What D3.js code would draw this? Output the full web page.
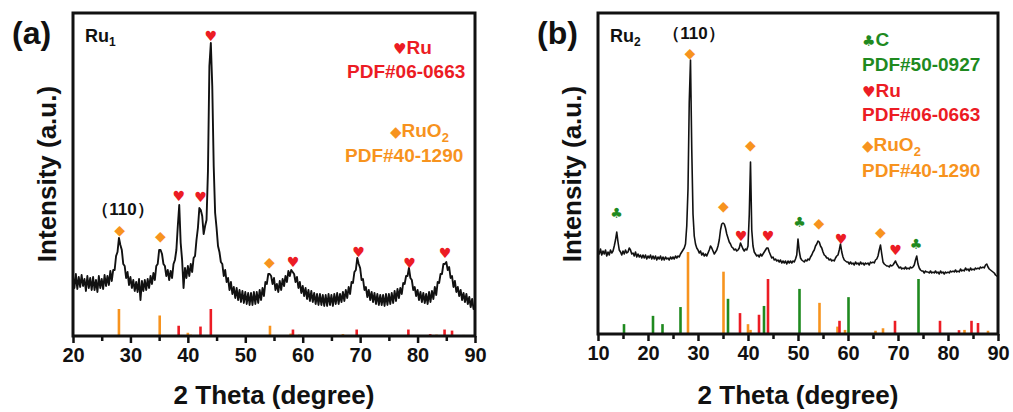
<!DOCTYPE html>
<html>
<head>
<meta charset="utf-8">
<script src="https://cdn.jsdelivr.net/npm/d3@7"></script>
<style>
    body { margin: 0; background: #fff; }
    svg text { font-family: 'Liberation Sans', Arial, sans-serif; font-weight: bold; }
</style>
</head>
<body>
<svg id="chart" width="1013" height="412"></svg>
<script>

// measured scans, intensity in a.u., one value every 0.25 degree
const scanStepA = 0.25
const scanStartA = 20
const intensityA = [
    60, 48, 62, 47,  59, 49, 61, 50,  57, 45, 60, 48,  58, 46, 59, 46,  56, 44, 60, 48,
    57, 47, 61, 50,  60, 51, 65, 55,  66, 66, 80, 84,  98, 91, 86, 72,  70, 58, 64, 51,
    59, 48, 56, 45,  54, 44, 57, 36,  55, 45, 56, 46,  57, 48, 60, 52,  63, 56, 70, 72,
    86, 86, 82, 72,  70, 60, 66, 56,  65, 58, 72, 76,  86, 110, 131, 93,  76, 48, 68, 58,
    70, 60, 72, 64,  78, 80, 96, 108,  128, 126, 120, 102,  110, 116, 165, 270,  293, 250, 170, 123,  108, 90, 84, 74,
    72, 60, 66, 54,  58, 46, 54, 42,  49, 38, 48, 36,  46, 34, 45, 33,  44, 32, 43, 31,
    43, 31, 44, 32,  44, 33, 46, 36,  48, 40, 54, 52,  62, 62, 60, 52,  58, 46, 52, 44,
    55, 46, 57, 50,  60, 54, 65, 60,  66, 64, 62, 54,  59, 48, 54, 43,  50, 40, 48, 37,
    46, 35, 45, 34,  43, 32, 42, 31,  42, 31, 41, 30,  41, 30, 42, 31,  41, 30, 42, 32,
    43, 32, 42, 34,  44, 35, 46, 38,  49, 42, 54, 53,  64, 66, 78, 72,  68, 56, 57, 46,
    49, 39, 46, 36,  44, 34, 43, 32,  42, 31, 41, 31,  41, 30, 42, 31,  42, 32, 43, 33,
    45, 35, 47, 38,  48, 42, 53, 52,  60, 60, 68, 58,  56, 46, 49, 40,  46, 36, 44, 34,
    43, 33, 42, 32,  44, 34, 45, 37,  49, 41, 54, 53,  62, 62, 72, 72,  74, 66, 69, 58,
    60, 49, 55, 44,  49, 40, 46, 36,  43, 34, 42, 32,  39, 29, 37, 27,  30
]

const scanStepB = 0.25
const scanStartB = 10
const intensityB = [
    84, 80, 85, 79,  83, 80, 84, 78,  82, 79, 84, 81,  83, 88, 94, 102,  92, 84, 82, 79,
    83, 80, 84, 81,  82, 86, 84, 80,  81, 78, 82, 77,  80, 77, 79, 76,  79, 76, 79, 75,
    78, 76, 79, 75,  78, 75, 78, 74,  77, 75, 78, 74,  77, 74, 77, 75,  76, 74, 77, 75,
    77, 75, 78, 76,  78, 77, 80, 82,  84, 86, 90, 108,  145, 232, 274, 185,  120, 98, 90, 86,
    84, 81, 83, 79,  81, 78, 80, 78,  81, 84, 88, 86,  83, 80, 82, 84,  88, 94, 104, 110,
    111, 110, 106, 100,  96, 92, 90, 87,  86, 84, 85, 83,  84, 86, 91, 88,  85, 83, 85, 84,
    88, 119, 172, 104,  88, 82, 80, 78,  79, 77, 80, 78,  80, 82, 84, 86,  86, 82, 79, 76,
    77, 74, 75, 73,  74, 72, 74, 71,  73, 71, 73, 70,  73, 71, 73, 71,  73, 72, 75, 79,
    95, 83, 76, 74,  73, 72, 74, 73,  75, 74, 77, 79,  82, 84, 88, 90,  93, 92, 88, 86,
    82, 79, 78, 76,  76, 74, 75, 73,  74, 73, 76, 78,  79, 84, 90, 82,  77, 74, 73, 72,
    72, 70, 72, 70,  71, 69, 72, 70,  71, 69, 72, 70,  71, 69, 71, 70,  71, 69, 72, 71,
    72, 71, 74, 75,  78, 84, 89, 80,  72, 70, 69, 68,  68, 67, 69, 68,  69, 71, 73, 70,
    68, 66, 67, 65,  66, 65, 67, 65,  66, 65, 67, 66,  67, 69, 74, 78,  70, 66, 64, 63,
    63, 61, 63, 62,  62, 61, 63, 61,  62, 61, 63, 61,  62, 60, 63, 61,  62, 60, 62, 61,
    62, 61, 63, 62,  63, 62, 64, 62,  63, 62, 65, 63,  64, 63, 66, 64,  65, 63, 66, 64,
    65, 64, 66, 65,  66, 65, 67, 66,  67, 66, 69, 70,  67, 65, 64, 63,  62, 61, 59, 58,  57
]

// reference patterns: [2theta, relative intensity]
const refRuO2 = [[28.0, 100], [35.1, 76], [40.0, 12], [40.5, 5], [54.3, 38], [57.9, 9], [59.4, 5], [65.5, 4], [67.0, 7], [83.3, 5], [88.0, 4]]
const refRu = [[38.4, 38], [42.2, 35], [44.0, 100], [58.3, 24], [69.4, 24], [78.4, 24], [82.2, 7], [84.7, 24], [86.0, 20]]
const refC = [[15.2, 18], [21.0, 33], [22.9, 18], [26.5, 49], [36.0, 64], [43.2, 51], [50.3, 82], [60.1, 67], [74.1, 100]]

// peak markers: [2theta, level in a.u., phase]
const markersA = [
    [28.1, 106, 'RuO2'], [35.2, 100, 'RuO2'], [38.4, 140, 'Ru'], [42.2, 139, 'Ru'], [44.0, 300, 'Ru'],
    [54.2, 74, 'RuO2'], [58.3, 74, 'Ru'], [69.7, 84, 'Ru'], [78.6, 73, 'Ru'], [84.8, 83, 'Ru']
]
const markersB = [
    [13.7, 121, 'C'], [28.4, 281, 'RuO2'], [35.1, 128, 'RuO2'], [38.6, 98, 'Ru'], [40.5, 189, 'RuO2'],
    [44.0, 98, 'Ru'], [50.3, 112, 'C'], [54.2, 111, 'RuO2'], [58.6, 95, 'Ru'], [66.5, 102, 'RuO2'],
    [69.5, 84, 'Ru'], [73.6, 90, 'C']
]

const ticksA = [20, 30, 40, 50, 60, 70, 80, 90]
const minorA = [25, 35, 45, 55, 65, 75, 85]
const ticksB = [10, 20, 30, 40, 50, 60, 70, 80, 90]
const minorB = [15, 25, 35, 45, 55, 65, 75, 85]

const phases = {
    Ru: { color: '#ec1c24', symbol: '\u2665', ref: refRu, pdf: 'PDF#06-0663' },
    RuO2: { color: '#f7931e', symbol: '\u25C6', ref: refRuO2, pdf: 'PDF#40-1290' },
    C: { color: '#1f8a1f', symbol: '\u2663', ref: refC, pdf: 'PDF#50-0927' }
}

window.onload = function(){
    const svg = d3.select('#chart')

    new panel({
        label: '(a)', sub: '1', left: 73, right: 475, top: 13, bottom: 336,
        domain: [20, 90], ticks: ticksA, minor: minorA,
        start: scanStartA, step: scanStepA, values: intensityA, lineWidth: 1.9,
        refs: [['RuO2', 27], ['Ru', 27]],
        markers: markersA,
        hkl: {x: 123, y: 215},
        legend: [
            {phase: 'Ru', x: 393, y: 54}, {pdf: 'Ru', x: 347, y: 78},
            {phase: 'RuO2', x: 390, y: 137}, {pdf: 'RuO2', x: 345, y: 162}
        ]
    }).render(svg)

    new panel({
        label: '(b)', sub: '2', left: 598, right: 998, top: 13, bottom: 334,
        domain: [10, 90], ticks: ticksB, minor: minorB,
        start: scanStartB, step: scanStepB, values: intensityB, lineWidth: 1.6,
        refs: [['C', 55], ['RuO2', 82], ['Ru', 55]],
        markers: markersB,
        hkl: {x: 694, y: 39},
        legend: [
            {phase: 'C', x: 862, y: 46}, {pdf: 'C', x: 862, y: 71},
            {phase: 'Ru', x: 862, y: 97}, {pdf: 'Ru', x: 862, y: 121},
            {phase: 'RuO2', x: 862, y: 151}, {pdf: 'RuO2', x: 862, y: 177}
        ]
    }).render(svg)
}

class panel {

    constructor(opts){
        this.o = opts
        this.x = d3.scaleLinear().domain(opts.domain).range([opts.left, opts.right])
        this.y = d3.scaleLinear().domain([0, opts.bottom - opts.top]).range([opts.bottom, opts.top])
    }

    render(svg){
        const o = this.o
        const g = svg.append('g')

        this.drawSticks(g)
        this.drawCurve(g)
        this.drawAxis(g)

        g.append('rect')
            .attr('x', o.left).attr('y', o.top)
            .attr('width', o.right - o.left).attr('height', o.bottom - o.top)
            .attr('fill', 'none').attr('stroke', '#111').attr('stroke-width', 3)

        this.drawMarkers(g)
        this.drawTexts(g)
    }

    drawSticks(g){
        const o = this.o
        o.refs.forEach(([name, maxH]) => {
            const ph = phases[name]
            const h = d3.scaleLinear().domain([0, 100]).range([o.bottom, o.bottom - maxH])
            g.append('g').selectAll('line')
                .data(ph.ref.filter(d => d[0] >= o.domain[0] && d[0] <= o.domain[1]))
                .join('line')
                .attr('x1', d => this.x(d[0])).attr('x2', d => this.x(d[0]))
                .attr('y1', o.bottom).attr('y2', d => h(d[1]))
                .attr('stroke', ph.color).attr('stroke-width', 2.6)
        })
    }

    drawCurve(g){
        const o = this.o
        const pts = o.values.map((v, i) => [o.start + i * o.step, v])
        const line = d3.line().x(d => this.x(d[0])).y(d => this.y(d[1]))
        g.append('path')
            .datum(pts)
            .attr('d', line)
            .attr('fill', 'none').attr('stroke', '#111').attr('stroke-width', o.lineWidth)
            .attr('stroke-linejoin', 'round')
    }

    drawAxis(g){
        const o = this.o
        const major = g.append('g')
            .attr('transform', d3Helper.getTranslateString(0, o.bottom))
            .call(d3.axisBottom(this.x).tickValues(o.ticks).tickSize(7).tickPadding(5).tickFormat(d3.format('d')))
        major.select('.domain').remove()
        major.selectAll('line').attr('stroke', '#111').attr('stroke-width', 2.5)
        major.selectAll('text').attr('font-size', 20).attr('fill', '#111')
            .style('font-family', "'Liberation Sans', Arial, sans-serif").style('font-weight', 'bold')

        const minor = g.append('g')
            .attr('transform', d3Helper.getTranslateString(0, o.bottom))
            .call(d3.axisBottom(this.x).tickValues(o.minor).tickSize(5).tickFormat(''))
        minor.select('.domain').remove()
        minor.selectAll('line').attr('stroke', '#111').attr('stroke-width', 2.5)

        const mid = (o.left + o.right) / 2
        g.append('text')
            .attr('x', mid).attr('y', 404)
            .attr('text-anchor', 'middle').attr('font-size', 26).attr('fill', '#111')
            .text('2 Theta (degree)')

        g.append('text')
            .attr('transform', d3Helper.getTranslateString(o.left - 17, 174) + ' rotate(-90)')
            .attr('text-anchor', 'middle').attr('font-size', 26).attr('fill', '#111')
            .text('Intensity (a.u.)')
    }

    drawMarkers(g){
        g.append('g').selectAll('text')
            .data(this.o.markers)
            .join('text')
            .attr('x', d => this.x(d[0])).attr('y', d => this.y(d[1]))
            .attr('dy', '0.35em')
            .attr('text-anchor', 'middle')
            .attr('font-size', 14)
            .style('font-family', "'DejaVu Sans', sans-serif")
            .attr('fill', d => phases[d[2]].color)
            .text(d => phases[d[2]].symbol)
    }

    drawTexts(g){
        const o = this.o

        g.append('text')
            .attr('x', o.left - 61).attr('y', 44)
            .attr('font-size', 32).attr('fill', '#111')
            .text(o.label)

        const ru = g.append('text')
            .attr('x', o.left + 12).attr('y', 42)
            .attr('font-size', 18).attr('fill', '#111')
        ru.append('tspan').text('Ru')
        ru.append('tspan').attr('font-size', 12).attr('dy', 4).text(o.sub)

        g.append('text')
            .attr('x', o.hkl.x).attr('y', o.hkl.y)
            .attr('text-anchor', 'middle').attr('font-size', 17).attr('fill', '#111')
            .text('\uFF08110\uFF09')

        o.legend.forEach(item => {
            if(item.pdf){
                const ph = phases[item.pdf]
                g.append('text')
                    .attr('x', item.x).attr('y', item.y)
                    .attr('font-size', 19).attr('fill', ph.color)
                    .text(ph.pdf)
                return
            }
            const ph = phases[item.phase]
            const t = g.append('text')
                .attr('x', item.x).attr('y', item.y)
                .attr('font-size', 19).attr('fill', ph.color)
            t.append('tspan')
                .style('font-family', "'DejaVu Sans', sans-serif")
                .attr('font-size', 15)
                .text(ph.symbol)
            switch(item.phase){
                case 'RuO2':
                    t.append('tspan').text('RuO')
                    t.append('tspan').attr('font-size', 13).attr('dy', 5).text('2')
                    break;
                default:
                    t.append('tspan').text(item.phase)
            }
        })
    }
}

class d3Helper {
    static getTranslateString(x, y){
        return "translate(" + x + "," + y + ")"
    }
}
</script>
</body>
</html>
